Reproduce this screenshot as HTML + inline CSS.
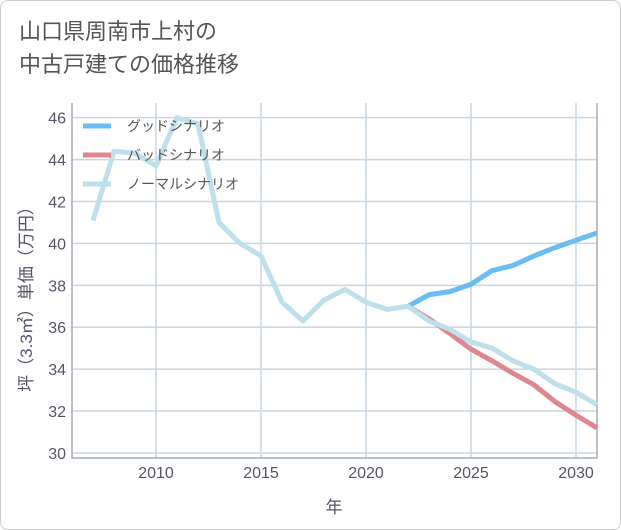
<!DOCTYPE html>
<html><head><meta charset="utf-8"><style>
body{margin:0;background:#fff;}
#wrap{position:relative;width:619px;height:528px;border:1px solid #ccc;border-radius:8px;background:#fff;overflow:hidden;}
.t{font-family:"Liberation Sans","Noto Sans CJK JP",sans-serif;}
</style></head><body>
<div id="wrap">
<div class="t" style="position:absolute;left:18px;top:14px;font-size:22px;line-height:33px;color:#555;">山口県周南市上村の<br>中古戸建ての価格推移</div>
<svg id="c" width="621" height="530" style="position:absolute;left:-1px;top:-1px"></svg>
</div>
<script>
const years=[2007,2008,2009,2010,2011,2012,2013,2014,2015,2016,2017,2018,2019,2020,2021,2022,2023,2024,2025,2026,2027,2028,2029,2030,2031];
const normal=[41.1,44.4,44.3,43.7,46.0,45.7,41.0,40.0,39.4,37.2,36.3,37.3,37.8,37.2,36.85,37.0,36.3,35.9,35.3,35.0,34.4,34.0,33.3,32.9,32.3];
const goodYears=[2022,2023,2024,2025,2026,2027,2028,2029,2030,2031];
const good=[37.0,37.55,37.7,38.05,38.7,38.95,39.4,39.8,40.15,40.5];
const bad=[37.0,36.4,35.7,34.95,34.4,33.8,33.25,32.45,31.8,31.2];
const yTicks=[30,32,34,36,38,40,42,44,46];
const xTicks=[2010,2015,2020,2025,2030];
const legendNames=["グッドシナリオ","バッドシナリオ","ノーマルシナリオ"];
const colors=["#6bbcf2","#dd8890","#bde0ec"];
const L=72,R=597,T=103,B=458,X0=2006.0,X1=2031,Y0=29.76,Y1=46.7;
const sx=v=>L+(v-X0)/(X1-X0)*(R-L);
const sy=v=>B-(v-Y0)/(Y1-Y0)*(B-T);
const svg=document.getElementById('c');const NS='http://www.w3.org/2000/svg';
function mk(tag,at,parent){const e=document.createElementNS(NS,tag);for(const k in at)e.setAttribute(k,at[k]);(parent||svg).appendChild(e);return e;}
const grid=mk('g',{});


xTicks.forEach(v=>{const l=mk('line',{x1:sx(v),x2:sx(v),y1:T,y2:B,stroke:'#c9d6e2','stroke-width':1.5},grid);


const t=mk('text',{x:sx(v),y:478,'text-anchor':'middle','font-size':16,fill:'#556',class:'t'});t.textContent=v;

});
yTicks.forEach(v=>{const l=mk('line',{x1:L,x2:R,y1:sy(v),y2:sy(v),stroke:'#c9d6e2','stroke-width':1.5},grid);


const t=mk('text',{x:66,y:sy(v)+6,'text-anchor':'end','font-size':16,fill:'#556',class:'t'});t.textContent=v;

});
const ax=mk('path',{d:`M${L} ${T}V${B}H${R}V${T}`,fill:'none',stroke:'#aab','stroke-width':1.5});


function line(xs,ys,col,name){const p=mk('polyline',{points:xs.map((x,i)=>sx(x)+','+sy(ys[i])).join(' '),fill:'none',stroke:col,'stroke-width':5,'stroke-linejoin':'round'});

}
line(goodYears,good,colors[0],'good-scenario-line');
line(goodYears,bad,colors[1],'bad-scenario-line');
line(years,normal,colors[2],'normal-scenario-line');
legendNames.forEach((n,i)=>{const g=mk('g',{});


const y=126+i*29;mk('line',{x1:83,x2:111,y1:y,y2:y,stroke:colors[i],'stroke-width':5},g);
const t=mk('text',{x:127,y:y+5,'font-size':14,fill:'#555',class:'t'},g);t.textContent=n;});
const xt=mk('text',{x:334,y:513,'text-anchor':'middle','font-size':17,fill:'#556',class:'t'});xt.textContent='年';


const yt=mk('text',{x:0,y:0,transform:'translate(32,295) rotate(-90)','text-anchor':'middle','font-size':17,fill:'#556',class:'t'});yt.textContent='坪（3.3㎡）単価（万円）';


</script>
</body></html>
